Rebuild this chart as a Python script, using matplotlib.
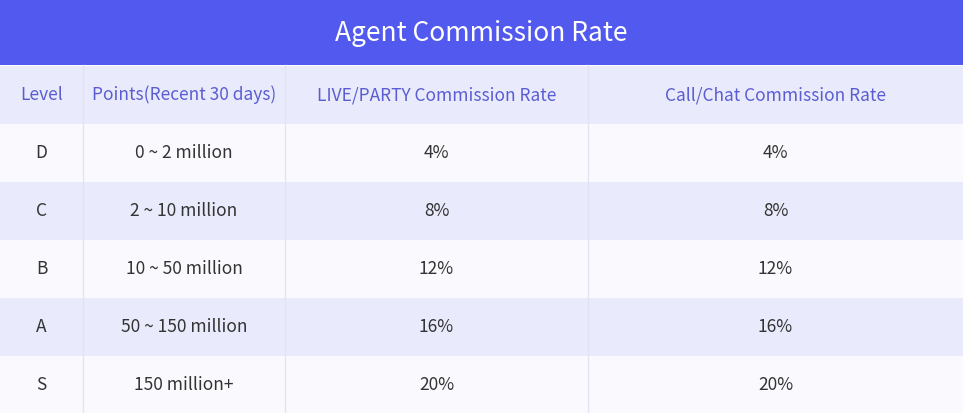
import matplotlib.pyplot as plt
from matplotlib.patches import Rectangle

plt.rcParams['font.family'] = ['Noto Sans CJK SC', 'DejaVu Sans']

title = "Agent Commission Rate"
headers = ["Level", "Points(Recent 30 days)", "LIVE/PARTY Commission Rate", "Call/Chat Commission Rate"]
levels = ["D", "C", "B", "A", "S"]
points = ["0 ~ 2 million", "2 ~ 10 million", "10 ~ 50 million", "50 ~ 150 million", "150 million+"]
live_rate = ["4%", "8%", "12%", "16%", "20%"]
chat_rate = ["4%", "8%", "12%", "16%", "20%"]

W, H = 963, 413
col_edges = [0, 83, 285, 588, 963]
title_h = 65
row_h = 58

fig = plt.figure(figsize=(W / 100, H / 100), dpi=100)
ax = fig.add_axes([0, 0, 1, 1])
ax.set_xlim(0, W)
ax.set_ylim(H, 0)
ax.axis('off')

# title band
ax.add_patch(Rectangle((0, 0), W, title_h, color='#5159ee', lw=0))
ax.text(W / 2, title_h / 2 + 1, title, color='white', fontsize=19, ha='center', va='center')

rows = [headers] + [list(r) for r in zip(levels, points, live_rate, chat_rate)]
for i, row in enumerate(rows):
    y0 = title_h + 1 + i * row_h
    bg = '#e9eafb' if i % 2 == 0 else '#fafafe'
    ax.add_patch(Rectangle((0, y0), W, row_h, color=bg, lw=0))
    color = '#5a5dd2' if i == 0 else '#333333'
    for j, txt in enumerate(row):
        xc = (col_edges[j] + col_edges[j + 1]) / 2
        ax.text(xc, y0 + row_h / 2, txt, color=color, fontsize=12.5, ha='center', va='center')

for x in col_edges[1:-1]:
    ax.plot([x, x], [title_h, H], color='#e2e3f3', lw=1)

fig.savefig('out.png', dpi=100)
